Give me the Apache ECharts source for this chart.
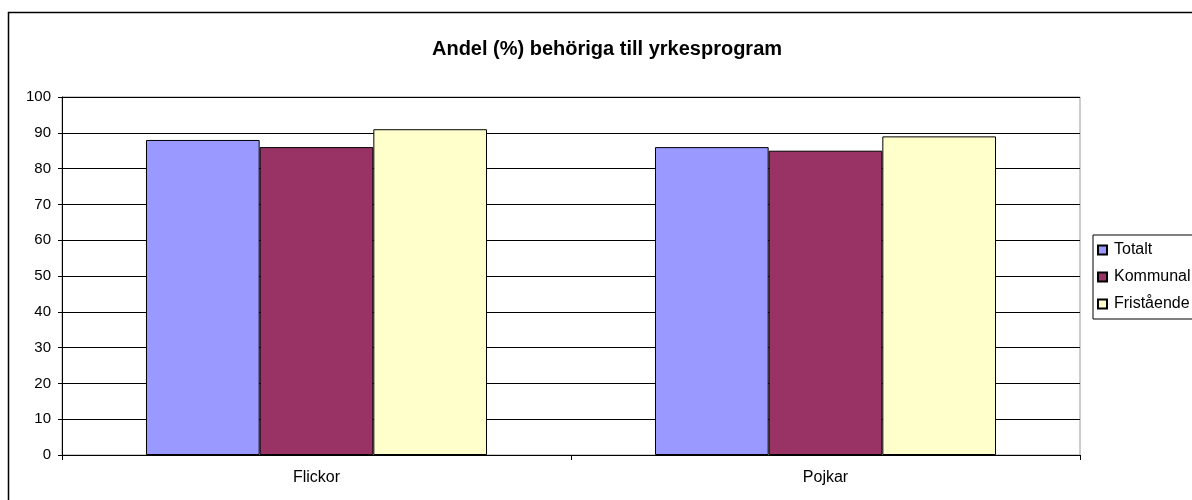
<!DOCTYPE html>
<html>
<head>
<meta charset="utf-8">
<script src="https://cdn.jsdelivr.net/npm/echarts@6/dist/echarts.min.js"></script>
<style>
  html, body { margin: 0; padding: 0; background: #fff; }
  #chart { width: 1192px; height: 500px; }
</style>
</head>
<body>
<div id="chart"></div>
<script>
    var categories = ['Flickor', 'Pojkar'];
    var seriesNames = ['Totalt', 'Kommunal', 'Fristående'];
    var totalt = [88, 86];
    var kommunal = [86, 85];
    var fristaende = [91, 89];
    var colors = ['#9999ff', '#993366', '#ffffcc'];

    var font = 'Arial, "Liberation Sans", sans-serif';

    function buildSerie(name, values, color) {
        return {
            name: name,
            type: 'bar',
            data: values,
            barGap: '0%',
            barCategoryGap: '33%',
            itemStyle: {
                color: color,
                borderColor: '#000',
                borderWidth: 1
            }
        };
    }

    var chart = echarts.init(document.getElementById('chart'));
    chart.setOption({
        animation: false,
        title: {
            text: 'Andel (%) behöriga till yrkesprogram',
            left: 602,
            textAlign: 'center',
            top: 34,
            textStyle: {fontFamily: font, fontSize: 20, fontWeight: 'bold', color: '#000'}
        },
        grid: {
            left: 62, right: 112, top: 97, bottom: 45,
            show: true, borderColor: '#999', borderWidth: 1
        },
        legend: {
            orient: 'vertical',
            left: 1093,
            top: 235,
            padding: [7, 40, 7, 4],
            borderColor: '#000',
            borderWidth: 1,
            itemWidth: 9,
            itemHeight: 9,
            itemGap: 11,
            icon: 'rect',
            textStyle: {fontFamily: font, fontSize: 16, lineHeight: 16, color: '#000', padding: [0, 0, 0, 2]},
            data: seriesNames
        },
        xAxis: {
            type: 'category',
            data: categories,
            axisLine: {lineStyle: {color: '#000'}},
            axisTick: {show: true, length: 5, lineStyle: {color: '#000'}},
            axisLabel: {fontFamily: font, fontSize: 16, color: '#000', margin: 15}
        },
        yAxis: {
            type: 'value',
            min: 0,
            max: 100,
            interval: 10,
            axisLine: {show: true, lineStyle: {color: '#000'}},
            axisTick: {show: true, length: 4, lineStyle: {color: '#000'}},
            axisLabel: {fontFamily: font, fontSize: 15, color: '#000', margin: 11},
            splitLine: {lineStyle: {color: '#000', width: 1}}
        },
        graphic: [{
            type: 'rect',
            shape: {x: 8.5, y: 12.5, width: 1200, height: 500},
            style: {fill: 'none', stroke: '#000', lineWidth: 1.5},
            silent: true
        }],
        series: [
            buildSerie(seriesNames[0], totalt, colors[0]),
            buildSerie(seriesNames[1], kommunal, colors[1]),
            buildSerie(seriesNames[2], fristaende, colors[2])
        ]
    });
</script>
</body>
</html>
